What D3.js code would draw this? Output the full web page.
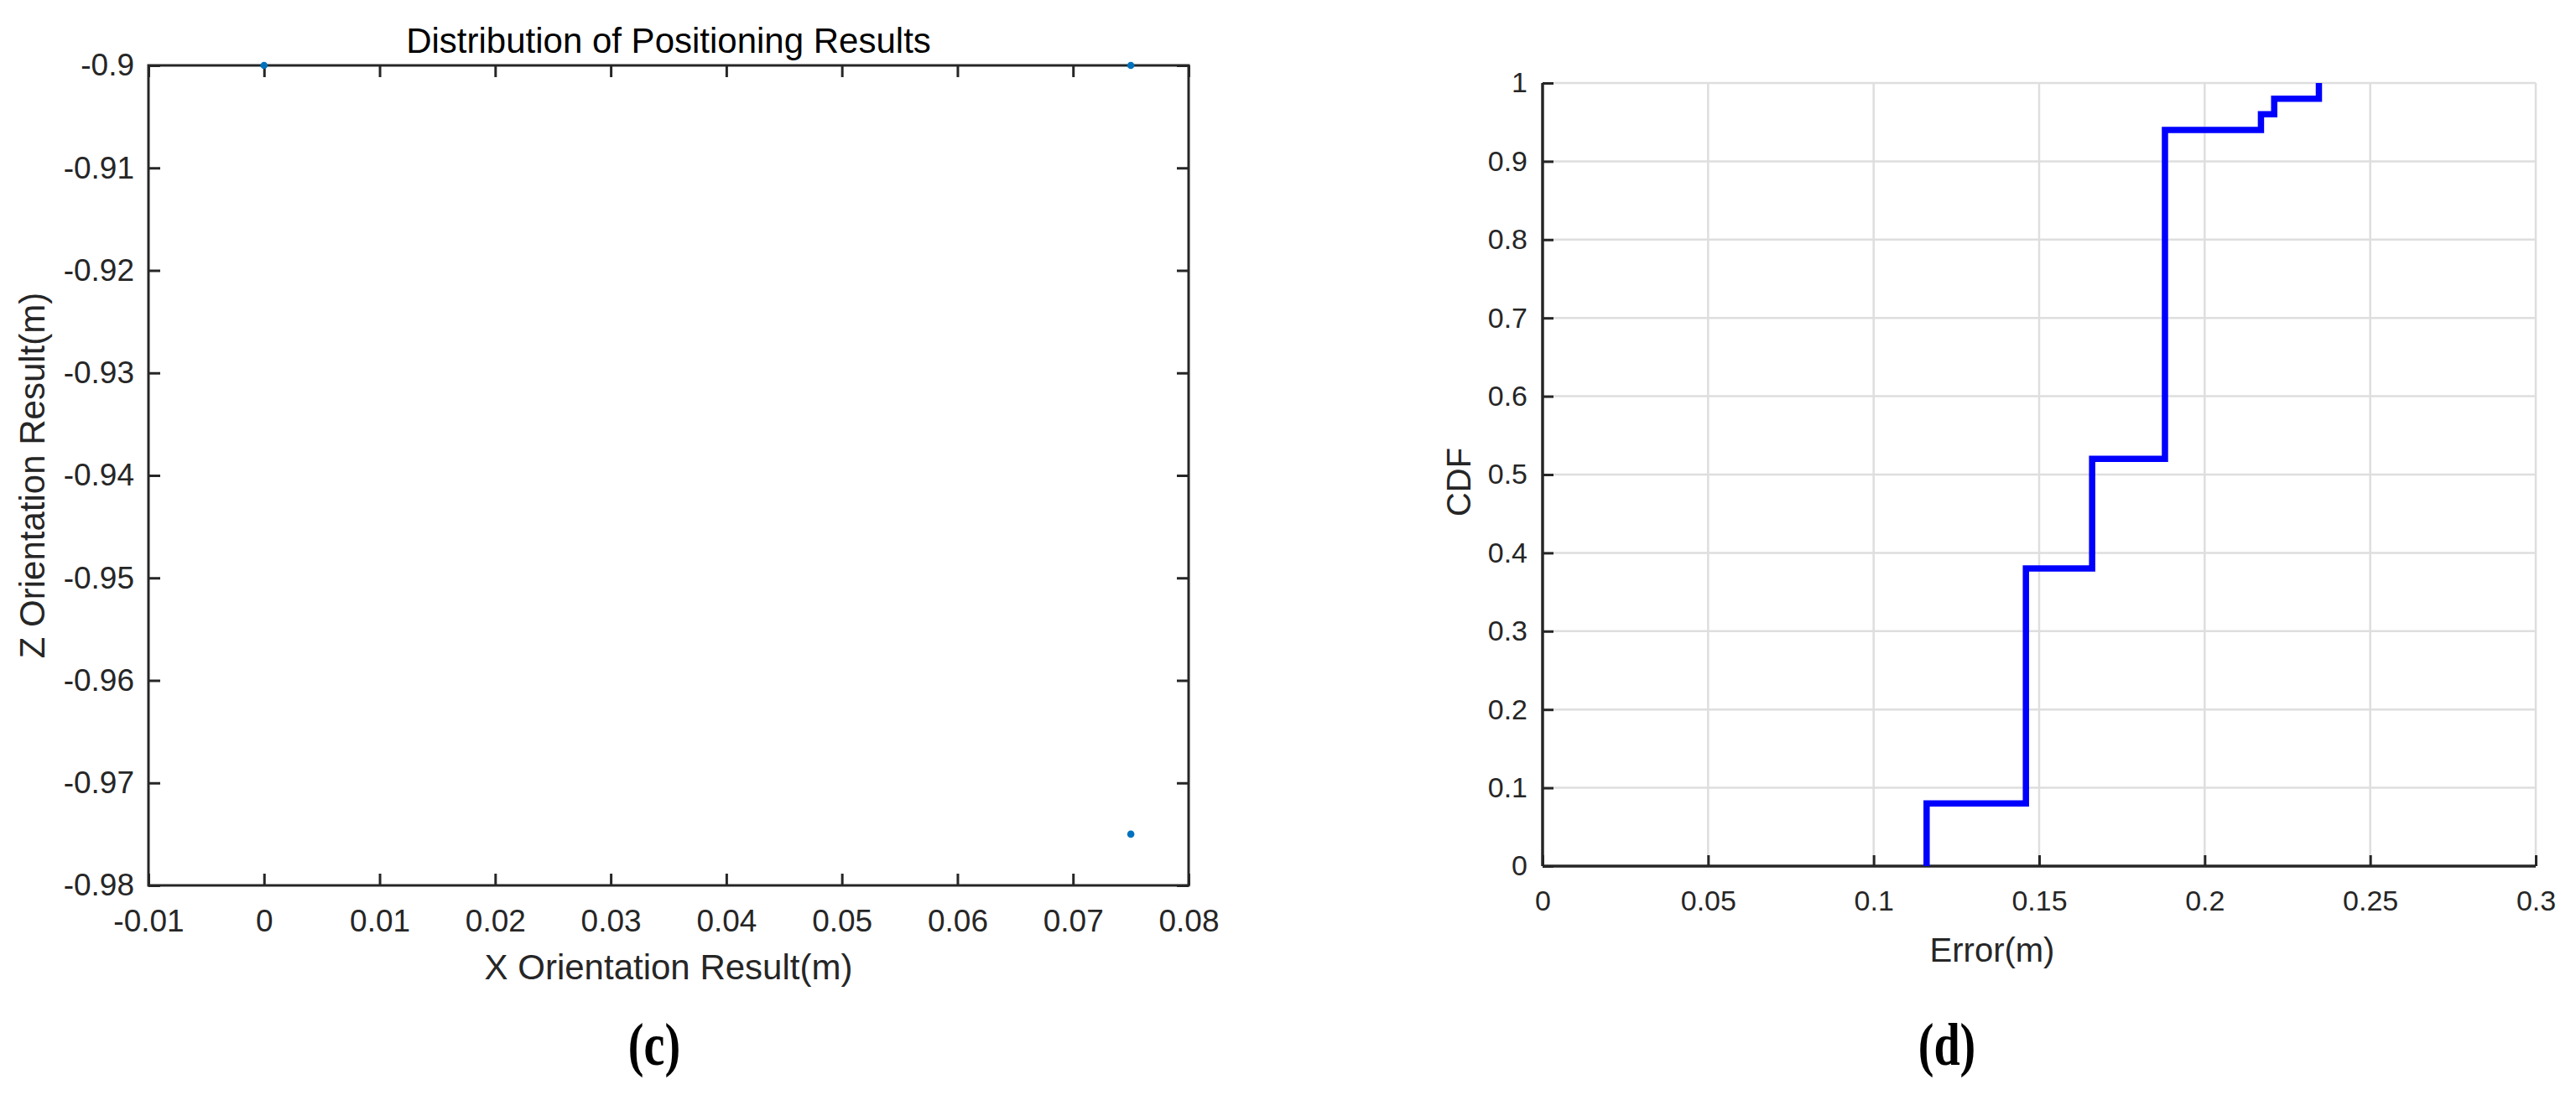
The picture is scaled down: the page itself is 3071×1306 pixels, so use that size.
<!DOCTYPE html>
<html><head><meta charset="utf-8">
<script src="https://cdn.jsdelivr.net/npm/d3@7"></script>
<style>body{margin:0;background:#fff} svg{display:block}</style>
</head><body><svg id="c" width="3071" height="1306" style="font-family:'Liberation Sans',Arial,sans-serif"></svg>
<script>
// ---- data ----
const scatterX = [0, 0.075, 0.075];
const scatterZ = [-0.9, -0.9, -0.975];
const leftXTicks = [-0.01, 0, 0.01, 0.02, 0.03, 0.04, 0.05, 0.06, 0.07, 0.08];
const leftXTickLabels = ["-0.01","0","0.01","0.02","0.03","0.04","0.05","0.06","0.07","0.08"];
const leftYTicks = [-0.98, -0.97, -0.96, -0.95, -0.94, -0.93, -0.92, -0.91, -0.9];
const leftYTickLabels = ["-0.98","-0.97","-0.96","-0.95","-0.94","-0.93","-0.92","-0.91","-0.9"];
const cdfX = [0.116, 0.146, 0.166, 0.188, 0.217, 0.221, 0.2345];
const cdfY = [0.08, 0.38, 0.52, 0.94, 0.96, 0.98, 1.0];
const rightXTicks = [0, 0.05, 0.1, 0.15, 0.2, 0.25, 0.3];
const rightXTickLabels = ["0","0.05","0.1","0.15","0.2","0.25","0.3"];
const rightYTicks = [0, 0.1, 0.2, 0.3, 0.4, 0.5, 0.6, 0.7, 0.8, 0.9, 1];
const rightYTickLabels = ["0","0.1","0.2","0.3","0.4","0.5","0.6","0.7","0.8","0.9","1"];

const svg = d3.select("#c");
const axisColor = "#262626";
const SANS = "'Liberation Sans',Arial,sans-serif";
const SERIF = "'Liberation Serif','Times New Roman',serif";

function styleAxis(g, fs) {
  g.select(".domain").remove();
  g.selectAll(".tick line").attr("stroke", axisColor).attr("stroke-width", 3);
  g.selectAll(".tick text").attr("fill", axisColor).style("font-size", fs + "px").style("font-family", SANS);
}

// ---- left plot (c) ----
const L = {x0: 177, x1: 1417, y0: 78, y1: 1056};
const xL = d3.scaleLinear().domain([-0.01, 0.08]).range([L.x0, L.x1]);
const yL = d3.scaleLinear().domain([-0.98, -0.9]).range([L.y1, L.y0]);
const fsL = 37;
const cxL = (L.x0 + L.x1) / 2;

svg.append("g").attr("transform", `translate(0,${L.y1})`)
  .call(d3.axisBottom(xL).tickValues(leftXTicks).tickFormat((d, i) => leftXTickLabels[i]).tickSizeInner(-14).tickSizeOuter(0).tickPadding(29))
  .call(g => styleAxis(g, fsL));
svg.append("g").attr("transform", `translate(0,${L.y0})`)
  .call(d3.axisTop(xL).tickValues(leftXTicks).tickFormat("").tickSizeInner(-14).tickSizeOuter(0))
  .call(g => styleAxis(g, fsL));
svg.append("g").attr("transform", `translate(${L.x0},0)`)
  .call(d3.axisLeft(yL).tickValues(leftYTicks).tickFormat((d, i) => leftYTickLabels[i]).tickSizeInner(-14).tickSizeOuter(0).tickPadding(17))
  .call(g => styleAxis(g, fsL));
svg.append("g").attr("transform", `translate(${L.x1},0)`)
  .call(d3.axisRight(yL).tickValues(leftYTicks).tickFormat("").tickSizeInner(-14).tickSizeOuter(0))
  .call(g => styleAxis(g, fsL));
svg.append("rect").attr("x", L.x0).attr("y", L.y0).attr("width", L.x1 - L.x0).attr("height", L.y1 - L.y0)
  .attr("fill", "none").attr("stroke", axisColor).attr("stroke-width", 3);

svg.append("g").selectAll("circle").data(scatterX).join("circle")
  .attr("cx", d => xL(d)).attr("cy", (d, i) => yL(scatterZ[i])).attr("r", 4.3).attr("fill", "#0072BD");

svg.append("text").attr("x", cxL).attr("y", 63).attr("text-anchor", "middle").style("font-size", "42px").attr("fill", "#000")
  .text("Distribution of Positioning Results");
svg.append("text").attr("x", cxL).attr("y", 1168).attr("text-anchor", "middle").style("font-size", "42px").attr("fill", axisColor)
  .text("X Orientation Result(m)");
svg.append("text").attr("transform", `translate(53,${(L.y0 + L.y1) / 2}) rotate(-90)`).attr("text-anchor", "middle")
  .style("font-size", "42px").attr("fill", axisColor).text("Z Orientation Result(m)");
svg.append("text").attr("transform", "translate(780,1270) scale(0.78,1)").attr("text-anchor", "middle")
  .style("font-size", "72px").style("font-family", SERIF).style("font-weight", "bold").attr("fill", "#000").text("(c)");

// ---- right plot (d) ----
const R = {x0: 1839, x1: 3023, y0: 99, y1: 1033};
const xR = d3.scaleLinear().domain([0, 0.3]).range([R.x0, R.x1]);
const yR = d3.scaleLinear().domain([0, 1]).range([R.y1, R.y0]);
const fsR = 34;

// grid
svg.append("g").selectAll("line").data(rightXTicks.slice(1)).join("line")
  .attr("x1", d => xR(d)).attr("x2", d => xR(d)).attr("y1", R.y0).attr("y2", R.y1)
  .attr("stroke", "#dedede").attr("stroke-width", 2.5);
svg.append("g").selectAll("line").data(rightYTicks.slice(1)).join("line")
  .attr("x1", R.x0).attr("x2", R.x1).attr("y1", d => yR(d)).attr("y2", d => yR(d))
  .attr("stroke", "#dedede").attr("stroke-width", 2.5);

svg.append("g").attr("transform", `translate(0,${R.y1})`)
  .call(d3.axisBottom(xR).tickValues(rightXTicks).tickFormat((d, i) => rightXTickLabels[i]).tickSizeInner(-13).tickSizeOuter(0).tickPadding(29))
  .call(g => styleAxis(g, fsR));
svg.append("g").attr("transform", `translate(${R.x0},0)`)
  .call(d3.axisLeft(yR).tickValues(rightYTicks).tickFormat((d, i) => rightYTickLabels[i]).tickSizeInner(-13).tickSizeOuter(0).tickPadding(18))
  .call(g => styleAxis(g, fsR));
svg.append("line").attr("x1", R.x0).attr("x2", R.x1).attr("y1", R.y1).attr("y2", R.y1).attr("stroke", axisColor).attr("stroke-width", 3.5);
svg.append("line").attr("x1", R.x0).attr("x2", R.x0).attr("y1", R.y0).attr("y2", R.y1).attr("stroke", axisColor).attr("stroke-width", 3.5);

const cdfPts = [[cdfX[0], 0]].concat(cdfX.map((x, i) => [x, cdfY[i]]));
const line = d3.line().x(d => xR(d[0])).y(d => yR(d[1])).curve(d3.curveStepAfter);
svg.append("path").datum(cdfPts).attr("d", line).attr("fill", "none").attr("stroke", "#0000FF").attr("stroke-width", 7.5);

svg.append("text").attr("x", 2375).attr("y", 1147).attr("text-anchor", "middle").style("font-size", "40px").attr("fill", axisColor)
  .text("Error(m)");
svg.append("text").attr("transform", "translate(1753,575) rotate(-90)").attr("text-anchor", "middle")
  .style("font-size", "40px").attr("fill", axisColor).text("CDF");
svg.append("text").attr("transform", "translate(2321,1270) scale(0.78,1)").attr("text-anchor", "middle")
  .style("font-size", "72px").style("font-family", SERIF).style("font-weight", "bold").attr("fill", "#000").text("(d)");
</script></body></html>
